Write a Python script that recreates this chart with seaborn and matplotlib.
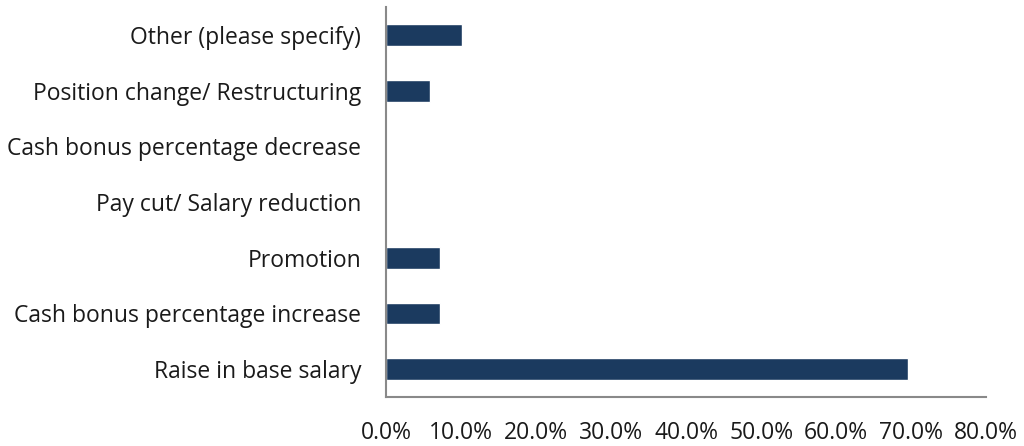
import pandas as pd
import numpy as np
import matplotlib
matplotlib.use("Agg")
import matplotlib.pyplot as plt
import seaborn as sns
from matplotlib.ticker import PercentFormatter

# categories listed top to bottom as shown
categories = [
    "Other (please specify)",
    "Position change/ Restructuring",
    "Cash bonus percentage decrease",
    "Pay cut/ Salary reduction",
    "Promotion",
    "Cash bonus percentage increase",
    "Raise in base salary",
]
shares = [10.1, 5.9, 0.0, 0.0, 7.2, 7.2, 69.6]

df = pd.DataFrame({"reason": categories, "share": shares})

sns.set_style("white")
plt.rcParams["font.family"] = ["Open Sans", "DejaVu Sans"]

fig = plt.figure(figsize=(10.24, 4.46), dpi=100)
ax = fig.add_axes([0.377, 0.110, 0.586, 0.874])

sns.barplot(data=df, x="share", y="reason", order=categories, color="#1b3a5f",
            width=0.39, saturation=1, ax=ax)

ax.set_xlim(0, 80)
ax.set_ylim(6.5, -0.5)
ax.set_xticks(np.arange(0, 81, 10))
ax.xaxis.set_major_formatter(PercentFormatter(decimals=1))
ax.set_xlabel("")
ax.set_ylabel("")

for s in ["top", "right"]:
    ax.spines[s].set_visible(False)
for s in ["left", "bottom"]:
    ax.spines[s].set_color("#898989")
    ax.spines[s].set_linewidth(1.5)

ax.tick_params(axis="both", length=0, labelsize=16.5, colors="#1a1a1a")
ax.tick_params(axis="y", pad=18)
ax.tick_params(axis="x", pad=17)

fig.savefig("out.png", dpi=100)
